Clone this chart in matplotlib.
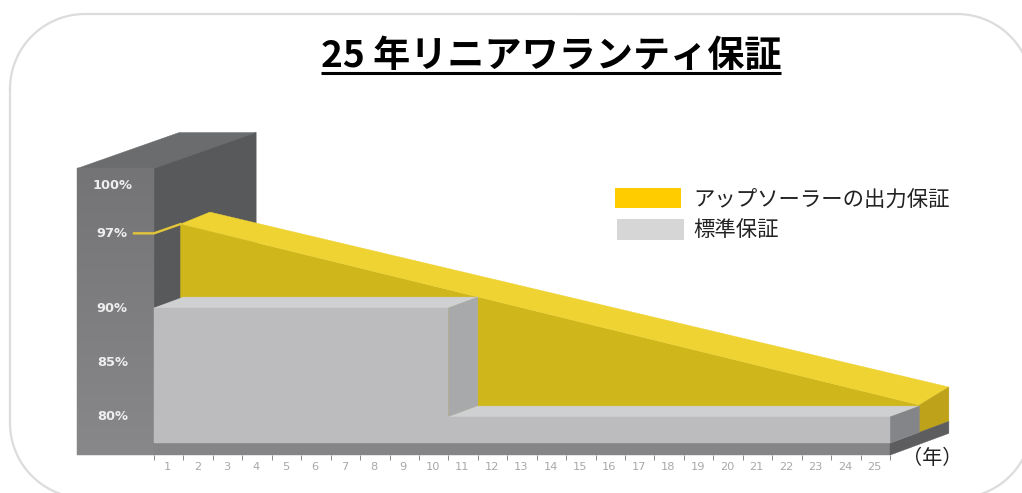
import numpy as np
import matplotlib
matplotlib.use("Agg")
import matplotlib.pyplot as plt
from matplotlib.patches import Polygon

# ---- data ----
title = "25 年リニアワランティ保証"
legend_labels = ["アップソーラーの出力保証", "標準保証"]
years = list(range(0, 26))
year_labels = [str(i) for i in range(1, 26)]
std_years = [0, 10, 25]
std_values = [90, 80]                # standard warranty: 90 % to year 10, then 80 %
linear_years = [-0.1, 25]
linear_near = [96.7, 80.1]           # front edge of the yellow slab
linear_far = [96.8, 80.75]           # back edge of the yellow slab
pct_labels = ["100%", "97%", "90%", "85%", "80%"]
pct_label_pos = [101.2, 96.85, 90.0, 85.0, 80.0]

# ---- styles ----
C_YEL_F, C_YEL_T, C_YEL_S = "#cfb71b", "#efd333", "#bda21a"
C_GRY_F, C_GRY_T, C_GRY_S = "#bcbcbe", "#cfd0d2", "#a8a9ab"
C_BASE, C_BASE_D, C_RSIDE = "#858587", "#5d5d5f", "#848589"
C_P_TOP, C_P_SIDE = "#6b6c6e", "#58595b"
FP = ["Noto Sans CJK JP", "DejaVu Sans"]
W, H = 1022, 493
X0, XS, Y0, YS = 154, 29.44, 417, 10.9     # pixel position of year 0/80 %, pixels per unit
BASE_TOP, BASE_BOT = 77.6, 76.5
WALL_X, WALL_TOP, WALL_DX, WALL_DY = -2.615, 102.8, 3.47, 3.3

fig = plt.figure(figsize=(W / 100, H / 100), dpi=100, facecolor="white")
ax = fig.add_axes([0, 0, 1, 1])
ax.set_facecolor("white")


def P(x, v, d=0, dv=None):
    """oblique projection: depth d shifts one year right and one percent up"""
    return (x + d, v + (d if dv is None else dv))


def poly(pts, c, z):
    p = Polygon(pts, closed=True, fc=c, ec=c, lw=0.3, zorder=z)
    ax.add_patch(p)
    return p


x_start, x_step, x_end = std_years
v_hi, v_lo = std_values

# wall
front = [P(WALL_X, WALL_TOP), P(x_start, WALL_TOP), P(x_start, BASE_BOT), P(WALL_X, BASE_BOT)]
fp = poly(front, "#7a7a7c", 2)
grad = np.linspace(0, 1, 256).reshape(-1, 1)
im = ax.imshow(grad, extent=(WALL_X, x_start, BASE_BOT, WALL_TOP), origin="upper",
               cmap=matplotlib.colors.LinearSegmentedColormap.from_list("g", ["#747476", "#88888b"]),
               aspect="auto", zorder=2.1)
im.set_clip_path(fp)
poly([P(WALL_X, WALL_TOP), P(x_start, WALL_TOP), P(x_start, WALL_TOP, WALL_DX, WALL_DY),
      P(WALL_X, WALL_TOP, WALL_DX, WALL_DY)], C_P_TOP, 1)
poly([P(x_start, WALL_TOP), P(x_start, WALL_TOP, WALL_DX, WALL_DY), P(x_start, v_hi, WALL_DX, WALL_DY),
      P(x_start, v_hi)], C_P_SIDE, 1)

# yellow slab
x1, x2 = linear_years
poly([P(x1, linear_near[0], 1), P(x2, linear_near[1], 1), P(x2, BASE_TOP, 1), P(x1, BASE_TOP, 1)], C_YEL_F, 3)
poly([P(x1, linear_near[0], 1), P(x1, linear_far[0], 2), P(x2, linear_far[1], 2), P(x2, linear_near[1], 1)], C_YEL_T, 3.1)
poly([P(x2, linear_near[1], 1), P(x2, linear_far[1], 2), P(x2, BASE_TOP, 2), P(x2, BASE_TOP, 1)], C_YEL_S, 3.2)

# base
poly([P(x_start, BASE_TOP), P(x_end, BASE_TOP), P(x_end, BASE_BOT), P(x_start, BASE_BOT)], C_BASE, 4)
poly([P(x_end, BASE_TOP), P(x_end, BASE_TOP, 2), P(x_end, BASE_BOT, 2), P(x_end, BASE_BOT)], C_BASE_D, 4)

# standard warranty block
poly([P(x_start, v_hi), P(x_start, v_hi, 1), P(x_step, v_hi, 1), P(x_step, v_hi)], C_GRY_T, 5)
poly([P(x_step, v_hi), P(x_step, v_hi, 1), P(x_step, v_lo, 1), P(x_step, v_lo)], C_GRY_S, 5)
poly([P(x_step, v_lo), P(x_step, v_lo, 1), P(x_end, v_lo, 1), P(x_end, v_lo)], C_GRY_T, 5)
poly([P(x_end, v_lo), P(x_end, v_lo, 1), P(x_end, BASE_TOP, 1), P(x_end, BASE_TOP)], C_RSIDE, 5)
poly([P(x_start, v_hi), P(x_step, v_hi), P(x_step, v_lo), P(x_end, v_lo), P(x_end, BASE_TOP), P(x_start, BASE_TOP)], C_GRY_F, 6)

# 97 % leader
ax.plot([-0.68, x_start, x1 + 1], [pct_label_pos[1]] * 2 + [linear_near[0] + 1], color="#e4c63a", lw=1.7,
        zorder=3.5, solid_joinstyle="miter")

# wall labels
for lab, pos in zip(pct_labels, pct_label_pos):
    ax.text(WALL_X + 1.2, pos, lab, color="#eeeeee", fontsize=9.4, fontweight="bold", family="DejaVu Sans",
            ha="center", va="center", zorder=7)

# year axis
for s in ["top", "left", "right"]:
    ax.spines[s].set_visible(False)
ax.spines["bottom"].set_position(("data", BASE_BOT))
ax.spines["bottom"].set_visible(False)
ax.yaxis.set_visible(False)
ax.set_xticks(years)
ax.set_xticklabels([])
ax.set_xticks([y - 0.53 for y in years[1:]], minor=True)
ax.set_xticklabels(year_labels, minor=True, fontsize=8.2, color="#a8a8a8", family="DejaVu Sans")
ax.tick_params(axis="x", which="major", length=3.5, width=0.7, color="#8a8a8a", direction="out")
ax.tick_params(axis="x", which="minor", length=0, pad=5)
ax.set_xlim((0 - X0) / XS, (W - X0) / XS)
ax.set_ylim(80 + (Y0 - H) / YS, 80 + Y0 / YS)

# overlay in pixel coordinates for page furniture
ov = fig.add_axes([0, 0, 1, 1], facecolor="none")
ov.set_xlim(0, W)
ov.set_ylim(H, 0)
ov.axis("off")
L, T, Rr, B, R = 10, 14, 1032, 498, 75
t = np.linspace(0, np.pi / 2, 40)
bx = np.r_[L + R - R * np.cos(t), Rr - R + R * np.sin(t), Rr - R + R * np.cos(t), L + R - R * np.sin(t), L]
by = np.r_[T + R - R * np.sin(t), T + R - R * np.cos(t), B - R + R * np.sin(t), B - R + R * np.cos(t), T + R]
ov.plot(bx, by, color="#dcdcdc", lw=1.6)
ov.text(551, 56, title, fontsize=26.7, fontweight="bold", family=FP, ha="center", va="center", color="black")
ov.plot([321, 781], [73, 73], color="black", lw=2.2, solid_capstyle="butt")
ov.add_patch(plt.Rectangle((615, 188), 66, 20, fc="#ffcc00", ec="none"))
ov.add_patch(plt.Rectangle((617, 219), 67, 21, fc="#d6d6d6", ec="none"))
ov.text(693, 201, legend_labels[0], fontsize=15.4, family=FP, ha="left", va="center", color="#222222")
ov.text(693, 230, legend_labels[1], fontsize=15.4, family=FP, ha="left", va="center", color="#222222")
ov.text(932, 458, "（年）", fontsize=14.5, family=FP, ha="center", va="center", color="#222222")

fig.savefig("out.png", dpi=100)
